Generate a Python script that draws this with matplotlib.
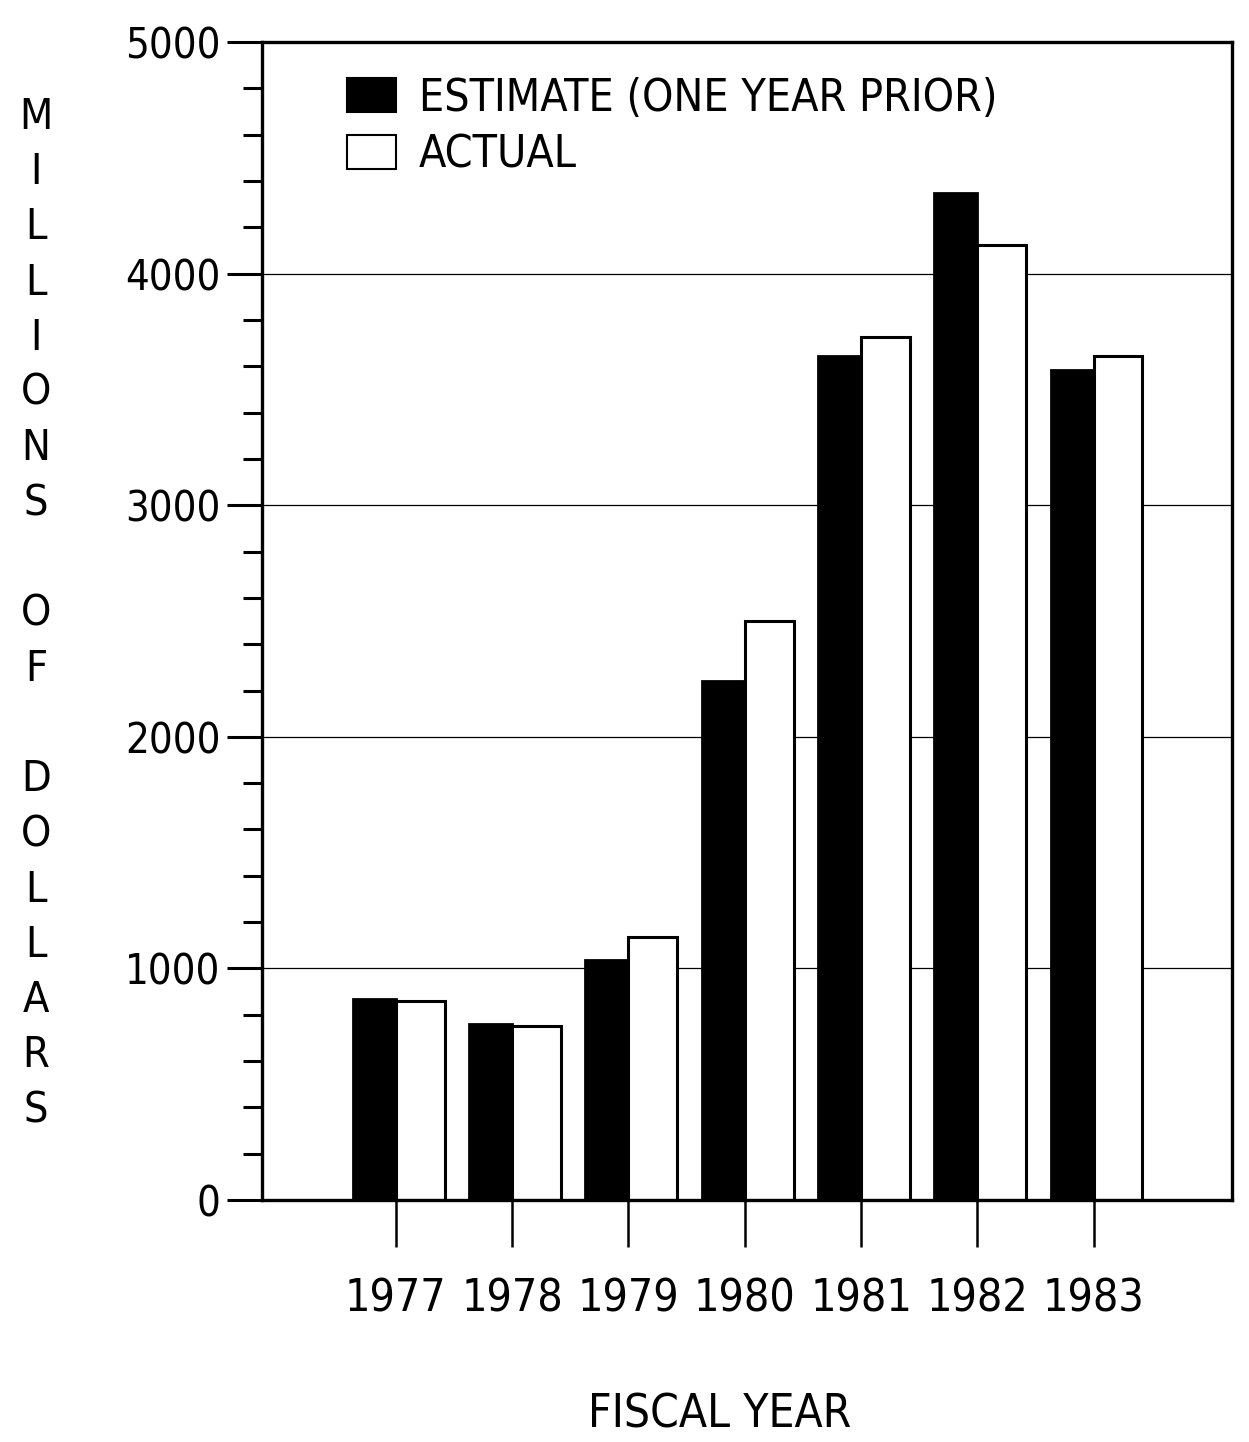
import numpy as np
import matplotlib.pyplot as plt
from matplotlib.patches import Patch
from matplotlib.ticker import MultipleLocator

plt.rcParams['font.family'] = ['DejaVu Sans']
plt.rcParams['font.stretch'] = 'condensed'

years = ['1977', '1978', '1979', '1980', '1981', '1982', '1983']
estimate = [870, 760, 1035, 2240, 3645, 4350, 3585]
actual = [860, 750, 1135, 2500, 3725, 4125, 3645]
ylabel_text = 'MILLIONS  OF  DOLLARS'

fig = plt.figure(figsize=(12.49, 14.42), dpi=100)
ax = fig.add_axes([0.2098, 0.1678, 0.7766, 0.803])

x = np.arange(len(years))
# grid first so the bars hide it
ax.set_axisbelow(True)
ax.yaxis.grid(True, which='major', color='black', linewidth=0.9)

ax.bar(x, estimate, width=-0.37, align='edge', color='black',
       edgecolor='black', linewidth=2.0)
ax.bar(x, actual, width=0.42, align='edge', color='white',
       edgecolor='black', linewidth=2.2)

ax.set_xlim(-1.15, 7.19)
ax.set_ylim(0, 5000)
ax.set_xticks(x)
ax.set_xticklabels(years, fontsize=32)
ax.yaxis.set_major_locator(MultipleLocator(1000))
ax.yaxis.set_minor_locator(MultipleLocator(200))
ax.set_yticks([0, 1000, 2000, 3000, 4000, 5000])
ax.set_yticklabels(['0', '1000', '2000', '3000', '4000', '5000'], fontsize=30)

ax.tick_params(axis='x', direction='out', length=34, width=1.8, pad=22)
ax.tick_params(axis='y', which='major', direction='out', length=25, width=2.2, pad=5)
ax.tick_params(axis='y', which='minor', direction='out', length=14, width=2.2)

for s in ax.spines.values():
    s.set_linewidth(2.4)

handles = [Patch(facecolor='black', edgecolor='black', linewidth=1.5),
           Patch(facecolor='white', edgecolor='black', linewidth=1.5)]
ax.legend(handles, ['ESTIMATE (ONE YEAR PRIOR)', 'ACTUAL'],
          loc='upper left', bbox_to_anchor=(0.088, 0.970), frameon=False,
          fontsize=32, handlelength=1.1, handleheight=0.8,
          handletextpad=0.5, labelspacing=0.3, borderpad=0, borderaxespad=0)

# stacked vertical axis label
ypos = 117
for ch in ylabel_text.replace('  ', ' '):
    if ch != ' ':
        fig.text(36 / 1249, 1 - ypos / 1442, ch, fontsize=31,
                 ha='center', va='center')
    ypos += 55.2
fig.text(720 / 1249, 1 - 1415 / 1442, 'FISCAL YEAR', fontsize=33,
         ha='center', va='center')

fig.savefig('out.png', dpi=100)
